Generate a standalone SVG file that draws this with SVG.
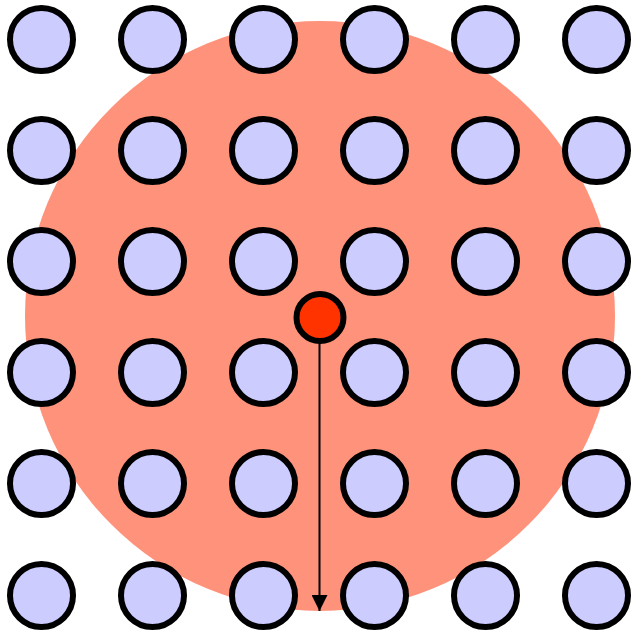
<svg xmlns="http://www.w3.org/2000/svg" width="636" height="632" viewBox="0 0 636 632">
<style>
.n{fill:#ccccff;stroke:#000;stroke-width:6}
</style>
<defs>
<marker id="ah" markerWidth="16" markerHeight="16" refX="16" refY="8" orient="auto" markerUnits="userSpaceOnUse">
<path d="M0,0 L16,8 L0,16 Z" fill="#000"/>
</marker>
</defs>
<rect width="636" height="632" fill="#fff"/>
<g id="range"><circle cx="320" cy="316" r="295" fill="#ff927a"/></g>
<g id="grid">
<g id="n00"><circle class="n" cx="41.5" cy="39.5" r="31.5"/></g>
<g id="n01"><circle class="n" cx="152.5" cy="39.5" r="31.5"/></g>
<g id="n02"><circle class="n" cx="263.5" cy="39.5" r="31.5"/></g>
<g id="n03"><circle class="n" cx="374.5" cy="39.5" r="31.5"/></g>
<g id="n04"><circle class="n" cx="485.5" cy="39.5" r="31.5"/></g>
<g id="n05"><circle class="n" cx="596.5" cy="39.5" r="31.5"/></g>
<g id="n10"><circle class="n" cx="41.5" cy="150.5" r="31.5"/></g>
<g id="n11"><circle class="n" cx="152.5" cy="150.5" r="31.5"/></g>
<g id="n12"><circle class="n" cx="263.5" cy="150.5" r="31.5"/></g>
<g id="n13"><circle class="n" cx="374.5" cy="150.5" r="31.5"/></g>
<g id="n14"><circle class="n" cx="485.5" cy="150.5" r="31.5"/></g>
<g id="n15"><circle class="n" cx="596.5" cy="150.5" r="31.5"/></g>
<g id="n20"><circle class="n" cx="41.5" cy="261.5" r="31.5"/></g>
<g id="n21"><circle class="n" cx="152.5" cy="261.5" r="31.5"/></g>
<g id="n22"><circle class="n" cx="263.5" cy="261.5" r="31.5"/></g>
<g id="n23"><circle class="n" cx="374.5" cy="261.5" r="31.5"/></g>
<g id="n24"><circle class="n" cx="485.5" cy="261.5" r="31.5"/></g>
<g id="n25"><circle class="n" cx="596.5" cy="261.5" r="31.5"/></g>
<g id="n30"><circle class="n" cx="41.5" cy="372.5" r="31.5"/></g>
<g id="n31"><circle class="n" cx="152.5" cy="372.5" r="31.5"/></g>
<g id="n32"><circle class="n" cx="263.5" cy="372.5" r="31.5"/></g>
<g id="n33"><circle class="n" cx="374.5" cy="372.5" r="31.5"/></g>
<g id="n34"><circle class="n" cx="485.5" cy="372.5" r="31.5"/></g>
<g id="n35"><circle class="n" cx="596.5" cy="372.5" r="31.5"/></g>
<g id="n40"><circle class="n" cx="41.5" cy="483.5" r="31.5"/></g>
<g id="n41"><circle class="n" cx="152.5" cy="483.5" r="31.5"/></g>
<g id="n42"><circle class="n" cx="263.5" cy="483.5" r="31.5"/></g>
<g id="n43"><circle class="n" cx="374.5" cy="483.5" r="31.5"/></g>
<g id="n44"><circle class="n" cx="485.5" cy="483.5" r="31.5"/></g>
<g id="n45"><circle class="n" cx="596.5" cy="483.5" r="31.5"/></g>
<g id="n50"><circle class="n" cx="41.5" cy="595.5" r="31.5"/></g>
<g id="n51"><circle class="n" cx="152.5" cy="595.5" r="31.5"/></g>
<g id="n52"><circle class="n" cx="263.5" cy="595.5" r="31.5"/></g>
<g id="n53"><circle class="n" cx="374.5" cy="595.5" r="31.5"/></g>
<g id="n54"><circle class="n" cx="485.5" cy="595.5" r="31.5"/></g>
<g id="n55"><circle class="n" cx="596.5" cy="595.5" r="31.5"/></g>
</g>
<g id="connectors">
<line x1="319.5" y1="340" x2="319.5" y2="611" stroke="#000" stroke-width="2" marker-end="url(#ah)"/>
</g>
<g id="center"><circle cx="320" cy="317.5" r="23.5" fill="#ff3300" stroke="#000" stroke-width="6"/></g>
</svg>
